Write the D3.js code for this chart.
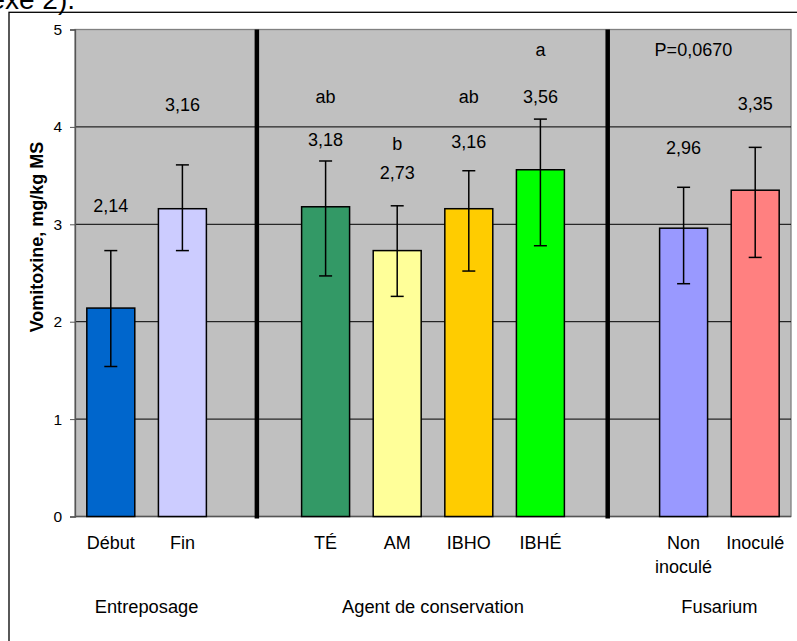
<!DOCTYPE html>
<html lang="fr">
<head>
<meta charset="UTF-8">
<script src="https://d3js.org/d3.v7.min.js"></script>
<style>
  body { margin: 0; background: #fff; }
  svg text { font-family: "Liberation Sans", Arial, sans-serif; fill: #000; }
</style>
</head>
<body>
<div id="chart"></div>
<script>
// Data
const slots = ["Début", "Fin", "_g1", "TÉ", "AM", "IBHO", "IBHÉ", "_g2", "Non inoculé", "Inoculé"];
const bars = ["Début", "Fin", "TÉ", "AM", "IBHO", "IBHÉ", "Non inoculé", "Inoculé"];
const values = [2.14, 3.16, 3.18, 2.73, 3.16, 3.56, 2.96, 3.35];
const errUp = [0.59, 0.45, 0.47, 0.46, 0.39, 0.52, 0.42, 0.44];
const errDown = [0.60, 0.43, 0.71, 0.47, 0.64, 0.78, 0.57, 0.69];
const letters = ["", "", "ab", "b", "ab", "a", "", ""];
const groups = ["Entreposage", "Agent de conservation", "Fusarium"];
const groupBars = [["Début", "Fin"], ["TÉ", "AM", "IBHO", "IBHÉ"], ["Non inoculé", "Inoculé"]];
const yTicks = [0, 1, 2, 3, 4, 5];
const pNote = "P=0,0670";

// Layout / style (label heights in axis units)
const colors = ["#0066cc", "#ccccff", "#339966", "#ffff99", "#ffcc00", "#00ff00", "#9999ff", "#ff8080"];
const valueLabelAt = [3.13, 4.16, 3.80, 3.46, 3.78, 4.25, 3.72, 4.17];
const letterLabelAt = [0, 0, 4.25, 3.76, 4.25, 4.73, 0, 0];
const dividerFrac = [0.54, 0.44];

const width = 797, height = 641;
const plot = { left: 75, right: 791, top: 29.5, bottom: 516.5 };
const fmt = v => d3.format(".2f")(v).replace(".", ",");

const svg = d3.select("#chart").append("svg")
  .attr("width", width)
  .attr("height", height);

// Cut-off caption above the frame
svg.append("text")
  .attr("x", 75).attr("y", 9)
  .attr("text-anchor", "end")
  .attr("font-size", 28)
  .text("annexe 2).");

// Outer frame
svg.append("rect")
  .attr("x", 9).attr("y", 12.3)
  .attr("width", 800).attr("height", 700)
  .attr("fill", "none").attr("stroke", "#000").attr("stroke-width", 1.3);

// Scales
const x = d3.scaleBand()
  .domain(slots)
  .range([plot.left, plot.right])
  .paddingInner(0.33)
  .paddingOuter(0.165);

const y = d3.scaleLinear()
  .domain([0, 5])
  .range([plot.bottom, plot.top]);

const cx = d => x(d) + x.bandwidth() / 2;

// Plot background
svg.append("rect")
  .attr("x", plot.left).attr("y", plot.top)
  .attr("width", plot.right - plot.left).attr("height", plot.bottom - plot.top)
  .attr("fill", "#c0c0c0")
  .attr("stroke", "#808080").attr("stroke-width", 1.3);

// Gridlines
svg.append("g")
  .selectAll("line")
  .data(yTicks.filter(t => t > 0 && t < 5))
  .join("line")
  .attr("x1", plot.left).attr("x2", plot.right)
  .attr("y1", d => y(d)).attr("y2", d => y(d))
  .attr("stroke", "#000").attr("stroke-width", 1);

// Bottom axis line
svg.append("line")
  .attr("x1", plot.left).attr("x2", plot.right)
  .attr("y1", y(0)).attr("y2", y(0))
  .attr("stroke", "#555").attr("stroke-width", 1.3);

// Y axis
const yAxis = svg.append("g")
  .attr("transform", `translate(${plot.left},0)`)
  .call(d3.axisLeft(y).tickValues(yTicks).tickSize(5).tickPadding(8).tickFormat(d3.format("d")));
yAxis.select(".domain").attr("stroke", "#555").attr("stroke-width", 1.3);
yAxis.selectAll(".tick line").attr("stroke", "#555");
yAxis.selectAll("text")
  .attr("font-size", 15.5)
  .attr("font-family", "Liberation Sans, Arial, sans-serif");

// Axis title
svg.append("text")
  .attr("transform", "translate(43,237) rotate(-90)")
  .attr("text-anchor", "middle")
  .attr("font-size", 18)
  .attr("font-weight", "bold")
  .text("Vomitoxine, mg/kg MS");

// Group dividers
const gapSlots = ["_g1", "_g2"];
const step = x.step();
svg.append("g")
  .selectAll("line")
  .data(gapSlots)
  .join("line")
  .attr("x1", (d, i) => x(d) - x.paddingInner() * step / 2 + dividerFrac[i] * step)
  .attr("x2", (d, i) => x(d) - x.paddingInner() * step / 2 + dividerFrac[i] * step)
  .attr("y1", y(5)).attr("y2", y(0) + 2)
  .attr("stroke", "#000").attr("stroke-width", 4.5);

// Bars
const data = bars.map((b, i) => ({
  name: b, value: values[i], up: errUp[i], down: errDown[i],
  color: colors[i], letter: letters[i], labelAt: valueLabelAt[i], letterAt: letterLabelAt[i]
}));

svg.append("g")
  .selectAll("rect")
  .data(data)
  .join("rect")
  .attr("x", d => x(d.name))
  .attr("y", d => y(d.value))
  .attr("width", x.bandwidth())
  .attr("height", d => y(0) - y(d.value))
  .attr("fill", d => d.color)
  .attr("stroke", "#000").attr("stroke-width", 1.5);

// Error bars
const err = svg.append("g")
  .attr("stroke", "#000").attr("stroke-width", 1.5)
  .selectAll("g")
  .data(data)
  .join("g");
err.append("line")
  .attr("x1", d => cx(d.name)).attr("x2", d => cx(d.name))
  .attr("y1", d => y(d.value + d.up)).attr("y2", d => y(d.value - d.down));
err.append("line")
  .attr("x1", d => cx(d.name) - 6.5).attr("x2", d => cx(d.name) + 6.5)
  .attr("y1", d => y(d.value + d.up)).attr("y2", d => y(d.value + d.up));
err.append("line")
  .attr("x1", d => cx(d.name) - 6.5).attr("x2", d => cx(d.name) + 6.5)
  .attr("y1", d => y(d.value - d.down)).attr("y2", d => y(d.value - d.down));

// Value labels
svg.append("g")
  .selectAll("text")
  .data(data)
  .join("text")
  .attr("x", d => cx(d.name))
  .attr("y", d => y(d.labelAt))
  .attr("text-anchor", "middle")
  .attr("font-size", 18)
  .text(d => fmt(d.value));

// Significance letters
svg.append("g")
  .selectAll("text")
  .data(data.filter(d => d.letter))
  .join("text")
  .attr("x", d => cx(d.name))
  .attr("y", d => y(d.letterAt))
  .attr("text-anchor", "middle")
  .attr("font-size", 18)
  .text(d => d.letter);

// P value note
svg.append("text")
  .attr("x", (cx("Non inoculé") + cx("Inoculé")) / 2 - 26)
  .attr("y", y(4.73))
  .attr("text-anchor", "middle")
  .attr("font-size", 18)
  .text(pNote);

// Category labels
svg.append("g")
  .selectAll("text")
  .data(bars)
  .join("text")
  .attr("x", d => cx(d))
  .attr("y", 549)
  .attr("text-anchor", "middle")
  .attr("font-size", 18)
  .each(function (d) {
    const parts = d === "Non inoculé" ? ["Non", "inoculé"] : [d];
    d3.select(this).selectAll("tspan")
      .data(parts)
      .join("tspan")
      .attr("x", cx(d))
      .attr("dy", (p, i) => i === 0 ? 0 : 23.5)
      .text(p => p);
  });

// Group labels
svg.append("g")
  .selectAll("text")
  .data(groups)
  .join("text")
  .attr("x", (d, i) => d3.mean(groupBars[i], cx))
  .attr("y", 613)
  .attr("text-anchor", "middle")
  .attr("font-size", 18.3)
  .text(d => d);
</script>
</body>
</html>
